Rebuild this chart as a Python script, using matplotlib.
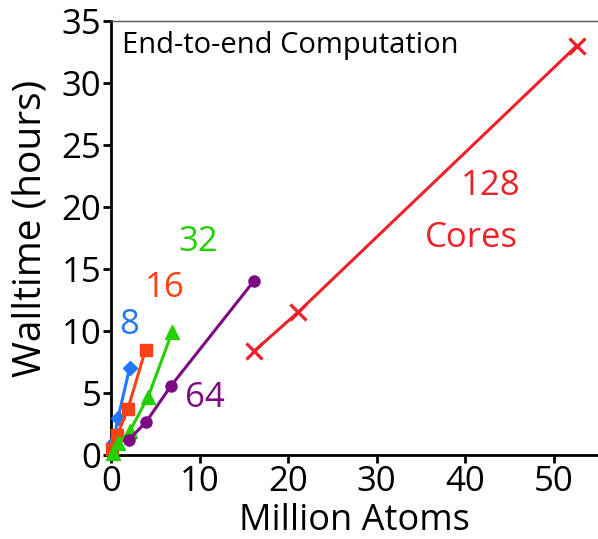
import numpy as np
import matplotlib
matplotlib.use('agg')
import matplotlib.pyplot as plt  # noqa

plt.rcParams['font.family'] = ['Open Sans', 'DejaVu Sans']

# Walltime (hours) vs system size (million atoms) for each core count
atoms_8 = [0.25, 0.8, 2.1]
hours_8 = [1.0, 3.0, 7.0]

atoms_16 = [0.1, 0.7, 1.9, 3.9]
hours_16 = [0.5, 1.6, 3.7, 8.5]

atoms_32 = [0.2, 0.8, 2.1, 4.2, 6.9]
hours_32 = [0.15, 1.0, 1.9, 4.7, 9.9]

atoms_64 = [2.0, 4.0, 6.8, 16.1]
hours_64 = [1.2, 2.7, 5.6, 14.0]

atoms_128 = [16.2, 21.1, 52.6]
hours_128 = [8.4, 11.5, 33.0]

x_ticks = [0, 10, 20, 30, 40, 50]
y_ticks = [0, 5, 10, 15, 20, 25, 30, 35]

fig = plt.figure(figsize=(5.98, 5.39), dpi=100)
ax = fig.add_axes([0.1856, 0.1558, 0.8144, 0.8052])

series = [
    (atoms_8, hours_8, '#1f78ff', 'D', 7),
    (atoms_16, hours_16, '#ff4010', 's', 8),
    (atoms_32, hours_32, '#22d000', '^', 10),
    (atoms_64, hours_64, '#7d0a85', 'o', 8),
]
for xs, ys, color, marker, ms in series:
    ax.plot(xs, ys, color=color, lw=2.2, marker=marker, ms=ms,
            clip_on=False, zorder=3)

ax.plot(atoms_128, hours_128, color='#ee2028', lw=2.2, marker='x', ms=11,
        mew=2.3, clip_on=False, zorder=3)

lab = dict(fontsize=25, ha='center', va='center')
ax.text(2.1, 10.5, '8', color='#1f78ff', **lab)
ax.text(6.1, 13.5, '16', color='#ff4010', **lab)
ax.text(9.8, 17.2, '32', color='#22d000', **lab)
ax.text(10.6, 4.6, '64', color='#7d0a85', **lab)
ax.text(42.9, 21.7, '128', color='#ee2028', **lab)
ax.text(40.7, 17.5, 'Cores', color='#ee2028', **lab)

ax.text(1.2, 33.0, 'End-to-end Computation', fontsize=21, ha='left', va='center')

ax.set_xlim(0, 55)
ax.set_ylim(0, 35)
ax.set_xticks(x_ticks)
ax.set_yticks(y_ticks)
ax.tick_params(labelsize=25, width=2, length=6, pad=1)
ax.set_xlabel('Million Atoms', fontsize=26, labelpad=3)
ax.set_ylabel('Walltime (hours)', fontsize=28)
ax.yaxis.set_label_coords(-0.127, 0.523)

for side in ['left', 'bottom']:
    ax.spines[side].set_linewidth(2)
ax.spines['top'].set_linewidth(1)
ax.spines['top'].set_color('#555555')
ax.spines['right'].set_visible(False)

fig.savefig('out.png', dpi=100)
